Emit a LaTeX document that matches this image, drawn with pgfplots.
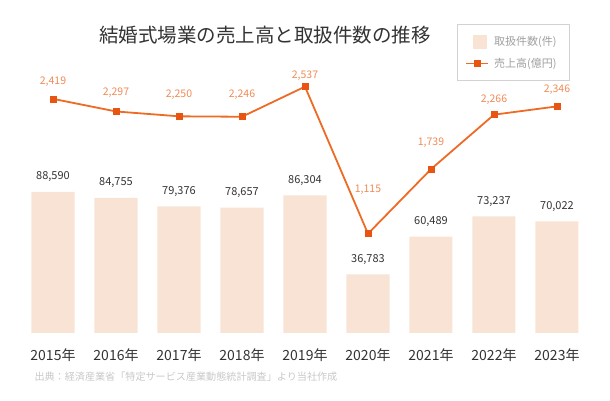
\documentclass[border=0pt]{standalone}
\usepackage{pgfplots}
\pgfplotsset{compat=1.18}
\usepackage{fontspec}
\setmainfont{Noto Sans CJK JP}
\definecolor{barc}{HTML}{F8E3D4}
\definecolor{linec}{HTML}{EE6B25}
\definecolor{markc}{HTML}{E85513}
\definecolor{lblc}{HTML}{F08A55}
\definecolor{txt}{HTML}{333333}
\definecolor{legc}{HTML}{A0A0A0}
\definecolor{srcc}{HTML}{C8C8C8}
\pgfplotsset{
  linelegend/.style={legend image code/.code={\draw[##1, mark repeat=2, mark phase=2] plot coordinates {(0pt,0pt) (11pt,0pt) (22pt,0pt)};}},
  barlegend/.style={legend image code/.code={\fill[barc] (7pt,-6.5pt) rectangle (20pt,6.5pt);}}
}
\begin{document}
\begin{tikzpicture}[x=1pt,y=1pt]
\useasboundingbox (0,0) rectangle (610,401);
\begin{axis}[
  at={(21.5pt,68pt)}, anchor=south west,
  scale only axis, width=567pt, height=263pt,
  xmin=-0.5, xmax=8.5, ymin=0, ymax=165000,
  ybar, bar width=43pt, bar shift=0pt,
  hide y axis,
  axis x line*=bottom, x axis line style={draw=none},
  major tick length=0pt,
  xtick={0,...,8},
  xticklabels={2015年,2016年,2017年,2018年,2019年,2020年,2021年,2022年,2023年},
  xticklabel style={font=\fontsize{14}{16}\selectfont, text=txt, anchor=center, yshift=-22pt},
  nodes near coords,
  nodes near coords style={font=\fontsize{11}{13}\selectfont, text=txt, anchor=center, yshift=15pt},
  /pgf/number format/fixed, /pgf/number format/precision=0,
  /pgf/number format/1000 sep={,}, /pgf/number format/assume math mode=true,
]
\addplot[fill=barc, draw=none] table[x=x,y=y] {
x y
0 88590
1 84755
2 79376
3 78657
4 86304
5 36783
6 60489
7 73237
8 70022
};
\end{axis}
\begin{axis}[
  at={(21.5pt,68pt)}, anchor=south west,
  scale only axis, width=567pt, height=263pt,
  xmin=-0.5, xmax=8.5, ymin=155, ymax=2698,
  hide x axis, hide y axis,
  clip=false,
  legend style={at={(axis description cs:0.768,1.175)}, anchor=north west,
    draw=gray!35, line width=0.8pt, font=\fontsize{11}{13}\selectfont,
    inner xsep=8pt, inner ysep=10pt, row sep=7pt, legend cell align=left,
    nodes={inner xsep=5pt}},
  /pgf/number format/fixed, /pgf/number format/precision=0,
  /pgf/number format/1000 sep={,}, /pgf/number format/assume math mode=true,
]
\addlegendimage{barlegend}
\addlegendentry{\textcolor{legc}{取扱件数(件)}}
\addplot[linec, line width=1.8pt, mark=square*, mark size=3pt,
  mark options={fill=markc, draw=markc, line width=0.5pt},
  linelegend,
  visualization depends on={\thisrow{dy} \as \dy},
  nodes near coords,
  every node near coord/.append style={anchor=center, yshift=\dy pt, font=\fontsize{10.5}{12}\selectfont, text=lblc}
] table[x=x,y=y] {
x y dy
0 2419 17
1 2297 19
2 2250 22
3 2246 22
4 2537 11
5 1115 44
6 1739 26
7 2266 15
8 2346 17
};
\addlegendentry{\textcolor{legc}{売上高(億円)}}
\end{axis}
\node[font=\fontsize{19.5}{22}\selectfont, text=txt] at (265,366) {結婚式場業の売上高と取扱件数の推移};
\node[anchor=west, font=\fontsize{10.1}{12}\selectfont, text=srcc] at (31,24) {出典：経済産業省「特定サービス産業動態統計調査」より当社作成};
\end{tikzpicture}
\end{document}
